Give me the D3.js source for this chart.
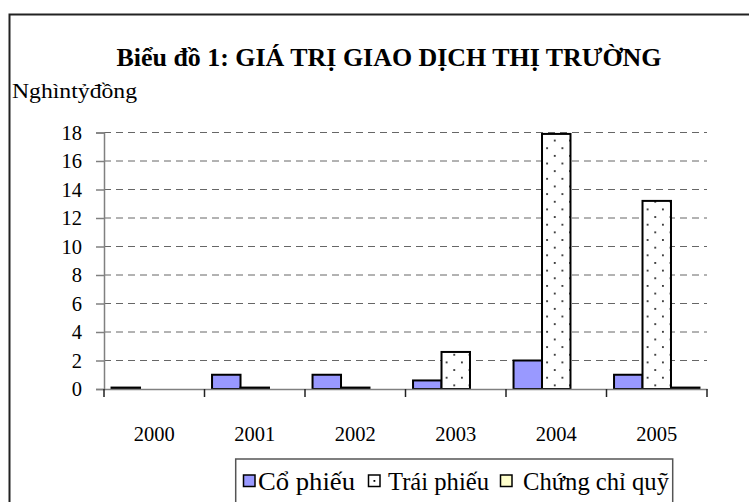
<!DOCTYPE html>
<html lang="vi">
	<head>
		<meta charset="utf-8">
		<title>Biểu đồ 1: Giá trị giao dịch thị trường</title>
		<style>
			body {
				margin: 0;
				background: white;
			}

			text {
				font-family: "Liberation Serif", "Times New Roman", serif;
				fill: black;
			}
		</style>
	</head>
	<body>

		<script src="https://cdn.jsdelivr.net/npm/d3@7"></script>
		<script>
			// DATA (nghìn tỷ đồng)

			var years = ["2000", "2001", "2002", "2003", "2004", "2005"];
			var seriesNames = ["Cổ phiếu", "Trái phiếu", "Chứng chỉ quỹ"];
			var coPhieu = [0.1, 1.0, 1.0, 0.6, 2.0, 1.0];
			var traiPhieu = [0, 0.1, 0.1, 2.6, 17.9, 13.2];
			var chungChiQuy = [0, 0, 0, 0, 0, 0.1];
			var yTicks = [0, 2, 4, 6, 8, 10, 12, 14, 16, 18];

			var seriesValues = [coPhieu, traiPhieu, chungChiQuy];

			// Width and Height
			var w = 749;
			var h = 502;

			var svg = d3.select("body").append("svg")
				.attr("width", w)
				.attr("height", h);

			// dotted fill for the bond bars
			var defs = svg.append("defs");
			var dots = defs.append("pattern")
				.attr("id", "dots")
				.attr("patternUnits", "userSpaceOnUse")
				.attr("width", 15.3)
				.attr("height", 15.3);
			dots.append("rect")
				.attr("width", 15.3)
				.attr("height", 15.3)
				.attr("fill", "white");
			dots.append("rect")
				.attr("x", 2).attr("y", 2)
				.attr("width", 1.7).attr("height", 1.7)
				.attr("fill", "#111");
			dots.append("rect")
				.attr("x", 9.65).attr("y", 9.65)
				.attr("width", 1.7).attr("height", 1.7)
				.attr("fill", "#111");

			var fills = ["#9999ff", "url(#dots)", "#ffffcc"];

			// outer chart frame (runs off the right and bottom edge)
			svg.append("rect")
				.attr("x", 9.5)
				.attr("y", 14.5)
				.attr("width", 800)
				.attr("height", 600)
				.attr("fill", "none")
				.attr("stroke", "#222")
				.attr("stroke-width", 2);

			// title and unit
			svg.append("text")
				.attr("x", 389)
				.attr("y", 66)
				.attr("text-anchor", "middle")
				.attr("textLength", 545)
				.attr("lengthAdjust", "spacingAndGlyphs")
				.style("font-size", "25px")
				.style("font-weight", "bold")
				.text("Biểu đồ 1: GIÁ TRỊ GIAO DỊCH THỊ TRƯỜNG");

			svg.append("text")
				.attr("x", 12)
				.attr("y", 98)
				.attr("textLength", 125)
				.attr("lengthAdjust", "spacingAndGlyphs")
				.style("font-size", "20px")
				.text("Nghìntỷđồng");

			// SCALES

			var x0 = d3.scaleBand()
				.domain(years)
				.range([104, 707])
				.padding(0);

			var gap = x0.bandwidth() * 0.15;
			var x1 = d3.scaleBand()
				.domain(d3.range(seriesNames.length))
				.range([gap / 2, x0.bandwidth() - gap / 2])
				.padding(0);

			var y = d3.scaleLinear()
				.domain([0, 18])
				.range([389, 132.5]);

			// GRIDLINES

			svg.append("g")
				.selectAll("line")
				.data(yTicks.filter(function(d) { return d > 0; }))
				.enter()
				.append("line")
				.attr("x1", 104)
				.attr("x2", 707)
				.attr("y1", function(d) { return y(d); })
				.attr("y2", function(d) { return y(d); })
				.attr("stroke", "#666")
				.attr("stroke-width", 1)
				.attr("stroke-dasharray", "7,5");

			// BARS

			var groups = svg.append("g")
				.selectAll("g")
				.data(years)
				.enter()
				.append("g")
				.attr("transform", function(d) {
					return "translate(" + x0(d) + ",0)";
				});

			groups.selectAll("rect")
				.data(function(d, i) {
					return seriesValues.map(function(vals, s) {
						return { s: s, v: vals[i] };
					}).filter(function(b) { return b.v > 0; });
				})
				.enter()
				.append("rect")
				.attr("x", function(d) { return x1(d.s); })
				.attr("y", function(d) { return y(d.v); })
				.attr("width", x1.bandwidth())
				.attr("height", function(d) { return y(0) - y(d.v); })
				.attr("fill", function(d) { return fills[d.s]; })
				.attr("stroke", "black")
				.attr("stroke-width", 2);

			// AXES

			var yAxis = svg.append("g")
				.attr("transform", "translate(104,0)")
				.call(d3.axisLeft(y).tickValues(yTicks).tickSize(8).tickPadding(14));

			yAxis.attr("font-family", null);
			yAxis.select(".domain").attr("stroke", "#808080").attr("stroke-width", 1.5);
			yAxis.selectAll(".tick line").attr("stroke", "#808080").attr("stroke-width", 1.5);
			yAxis.selectAll("text")
				.style("font-size", "20.5px");

			var xAxis = svg.append("g")
				.attr("transform", "translate(0,389)")
				.call(d3.axisBottom(x0).tickSize(0).tickPadding(37).tickSizeOuter(0));

			xAxis.attr("font-family", null);
			xAxis.select(".domain").attr("stroke", "#808080").attr("stroke-width", 1.5);
			xAxis.selectAll("text")
				.style("font-size", "20.5px");

			// category divider ticks under the axis
			xAxis.selectAll(".divider")
				.data(years.concat(["end"]))
				.enter()
				.append("line")
				.attr("class", "divider")
				.attr("x1", function(d) { return d === "end" ? 707 : x0(d); })
				.attr("x2", function(d) { return d === "end" ? 707 : x0(d); })
				.attr("y1", 0)
				.attr("y2", 8)
				.attr("stroke", "#222")
				.attr("stroke-width", 1.5);

			// LEGEND

			var legend = svg.append("g");

			legend.append("rect")
				.attr("x", 235.7)
				.attr("y", 459)
				.attr("width", 437)
				.attr("height", 80)
				.attr("fill", "white")
				.attr("stroke", "#555")
				.attr("stroke-width", 1.5);

			var legendX = [243.5, 368.5, 500.5];
			var legendTextX = [258, 388, 523];
			var legendTextW = [97, 101, 146];

			var items = legend.selectAll(".item")
				.data(seriesNames)
				.enter()
				.append("g")
				.attr("class", "item");

			items.append("rect")
				.attr("x", function(d, i) { return legendX[i]; })
				.attr("y", 475)
				.attr("width", 11.5)
				.attr("height", 11.5)
				.attr("fill", function(d, i) {
					return i === 1 ? "white" : fills[i];
				})
				.attr("stroke", "black")
				.attr("stroke-width", 1.5);

			// the bond marker shows a single dot
			items.filter(function(d, i) { return i === 1; })
				.append("rect")
				.attr("x", legendX[1] + 5)
				.attr("y", 480)
				.attr("width", 1.8)
				.attr("height", 1.8)
				.attr("fill", "black");

			items.append("text")
				.attr("x", function(d, i) { return legendTextX[i]; })
				.attr("y", 490)
				.attr("textLength", function(d, i) { return legendTextW[i]; })
				.attr("lengthAdjust", "spacingAndGlyphs")
				.style("font-size", "25px")
				.text(function(d) { return d; });
		</script>
	</body>
</html>
